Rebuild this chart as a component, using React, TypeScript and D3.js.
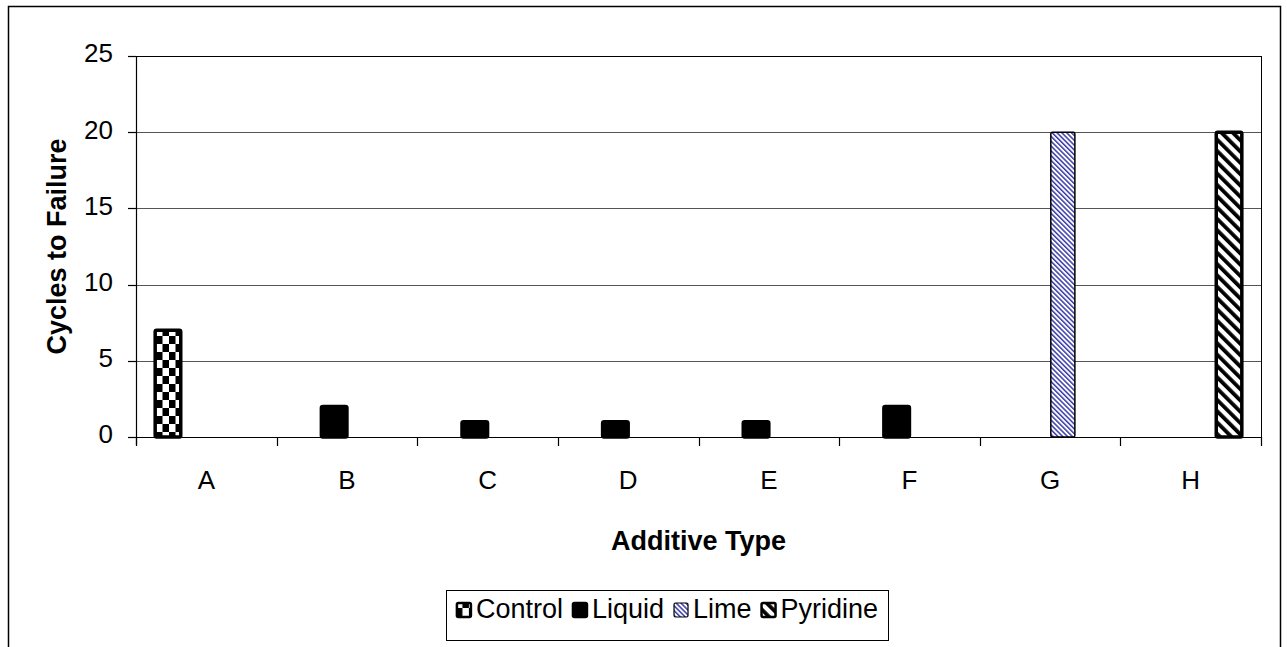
import React, { useEffect, useRef } from "react";
import * as d3 from "d3";

const categories = ["A", "B", "C", "D", "E", "F", "G", "H"];
const seriesNames = ["Control", "Liquid", "Lime", "Pyridine"];
const controlValues = [7, null, null, null, null, null, null, null];
const liquidValues = [null, 2, 1, 1, 1, 2, null, null];
const limeValues = [null, null, null, null, null, null, 20, null];
const pyridineValues = [null, null, null, null, null, null, null, 20];
const yTicks = [0, 5, 10, 15, 20, 25];
const yLabel = "Cycles to Failure";
const xLabel = "Additive Type";

const W = 1287;
const H = 647;
const M = { left: 136, right: 1261, top: 56, bottom: 437 };

const fills = ["url(#pCheck)", "#000", "url(#pLime)", "url(#pPyr)"];
const strokeW = [3.5, 3.5, 1.5, 3.5];

export default function App() {
  const ref = useRef<SVGSVGElement>(null);
  useEffect(() => {
    const svg = d3.select(ref.current);
    svg.selectAll("*").remove();
    const font = "'Liberation Sans', Arial, sans-serif";

    const defs = svg.append("defs");
    const pc = defs.append("pattern").attr("id", "pCheck").attr("patternUnits", "userSpaceOnUse")
      .attr("width", 13).attr("height", 16);
    pc.append("rect").attr("width", 13).attr("height", 16).attr("fill", "#fff");
    pc.append("rect").attr("width", 6.5).attr("height", 8).attr("fill", "#000");
    pc.append("rect").attr("x", 6.5).attr("y", 8).attr("width", 6.5).attr("height", 8).attr("fill", "#000");

    const pl = defs.append("pattern").attr("id", "pLime").attr("patternUnits", "userSpaceOnUse")
      .attr("width", 3.4).attr("height", 10).attr("patternTransform", "rotate(-45)");
    pl.append("rect").attr("width", 3.4).attr("height", 10).attr("fill", "#fff");
    pl.append("rect").attr("width", 1.5).attr("height", 10).attr("fill", "#3a3aa8");

    const pp = defs.append("pattern").attr("id", "pPyr").attr("patternUnits", "userSpaceOnUse")
      .attr("width", 8).attr("height", 10).attr("patternTransform", "rotate(-45)");
    pp.append("rect").attr("width", 8).attr("height", 10).attr("fill", "#fff");
    pp.append("rect").attr("width", 3.8).attr("height", 10).attr("fill", "#000");

    svg.append("rect").attr("x", 0).attr("y", 0).attr("width", W).attr("height", H).attr("fill", "#fff");
    svg.append("rect").attr("x", 8.5).attr("y", 6.5).attr("width", 1272).attr("height", 700)
      .attr("fill", "none").attr("stroke", "#000").attr("stroke-width", 1.5);

    const x0 = d3.scaleBand<string>().domain(categories).range([M.left, M.right]).paddingInner(0).paddingOuter(0);
    const bw = x0.bandwidth();
    const g = 0.75 / 5.5;
    const x1 = d3.scaleBand<string>().domain(seriesNames).range([bw * g, bw * (1 - g)]).padding(0);
    const y = d3.scaleLinear().domain([0, 25]).range([M.bottom, M.top]);

    svg.append("g").selectAll("line").data(yTicks.filter(t => t > 0)).join("line")
      .attr("x1", M.left).attr("x2", M.right)
      .attr("y1", d => Math.round(y(d)) + 0.5).attr("y2", d => Math.round(y(d)) + 0.5)
      .attr("stroke", d => (d === 25 ? "#000" : "#555")).attr("stroke-width", 1);
    svg.append("line").attr("x1", M.right + 0.5).attr("x2", M.right + 0.5)
      .attr("y1", M.top).attr("y2", M.bottom).attr("stroke", "#000");

    const allSeries = [controlValues, liquidValues, limeValues, pyridineValues];
    allSeries.forEach((vals, si) => {
      const data = categories.map((c, i) => ({ c, v: vals[i] })).filter(d => d.v != null) as { c: string; v: number }[];
      const extra = si === 2 ? -1.5 : 0;
      svg.append("g").selectAll("rect").data(data).join("rect")
        .attr("x", d => (x0(d.c) as number) + (x1(seriesNames[si]) as number) - extra / 2)
        .attr("width", x1.bandwidth() + extra)
        .attr("y", d => y(d.v))
        .attr("height", d => y(0) - y(d.v))
        .attr("rx", 1.5)
        .attr("fill", fills[si]).attr("stroke", "#000").attr("stroke-width", strokeW[si]);
    });

    const ax = svg.append("g").attr("stroke", "#000").attr("stroke-width", 1.2);
    ax.append("line").attr("x1", M.left + 0.5).attr("x2", M.left + 0.5).attr("y1", M.top).attr("y2", M.bottom + 8);
    ax.append("line").attr("x1", M.left - 8).attr("x2", M.right).attr("y1", M.bottom + 0.5).attr("y2", M.bottom + 0.5);
    yTicks.forEach(t => {
      ax.append("line").attr("x1", M.left - 8).attr("x2", M.left)
        .attr("y1", Math.round(y(t)) + 0.5).attr("y2", Math.round(y(t)) + 0.5);
    });
    const bounds = categories.map(c => x0(c) as number).concat([M.right]);
    bounds.forEach(b => {
      ax.append("line").attr("x1", Math.round(b) + 0.5).attr("x2", Math.round(b) + 0.5)
        .attr("y1", M.bottom).attr("y2", M.bottom + 9);
    });

    const tg = svg.append("g").attr("font-family", font).attr("font-size", 26).attr("fill", "#000");
    yTicks.forEach(t => {
      tg.append("text").attr("x", 113).attr("y", y(t) - 3).attr("dy", "0.36em")
        .attr("text-anchor", "end").text(String(t));
    });
    categories.forEach(c => {
      tg.append("text").attr("x", (x0(c) as number) + bw / 2).attr("y", 489)
        .attr("text-anchor", "middle").text(c);
    });

    svg.append("text").attr("font-family", font).attr("font-size", 27).attr("font-weight", "bold")
      .attr("text-anchor", "middle").attr("transform", `translate(66,${(M.top + M.bottom) / 2}) rotate(-90)`)
      .text(yLabel);
    svg.append("text").attr("font-family", font).attr("font-size", 27).attr("font-weight", "bold")
      .attr("text-anchor", "middle").attr("x", (M.left + M.right) / 2).attr("y", 550).text(xLabel);

    const lg = svg.append("g");
    const box = lg.append("rect").attr("y", 590.5).attr("height", 50).attr("fill", "#fff")
      .attr("stroke", "#000").attr("stroke-width", 1);
    let cx = 0;
    const items = lg.append("g");
    seriesNames.forEach((s, si) => {
      const it = items.append("g").attr("transform", `translate(${cx},0)`);
      it.append("rect").attr("x", 1).attr("y", 603).attr("width", 14).attr("height", 14).attr("rx", 1.5)
        .attr("fill", fills[si]).attr("stroke", "#000").attr("stroke-width", si === 2 ? 1.2 : 2.5);
      const t = it.append("text").attr("x", 20).attr("y", 618).attr("font-family", font)
        .attr("font-size", 27).text(s);
      const tw = (t.node() as SVGTextElement).getComputedTextLength();
      cx += 20 + tw + 9;
    });
    const total = cx - 9;
    const lx = 667 - total / 2;
    items.attr("transform", `translate(${lx},0)`);
    box.attr("x", Math.round(lx - 10) + 0.5).attr("width", Math.round(total + 20));
  }, []);
  return (
    <svg ref={ref} width={W} height={H} style={{ position: "absolute", left: 0, top: 0 }} />
  );
}
